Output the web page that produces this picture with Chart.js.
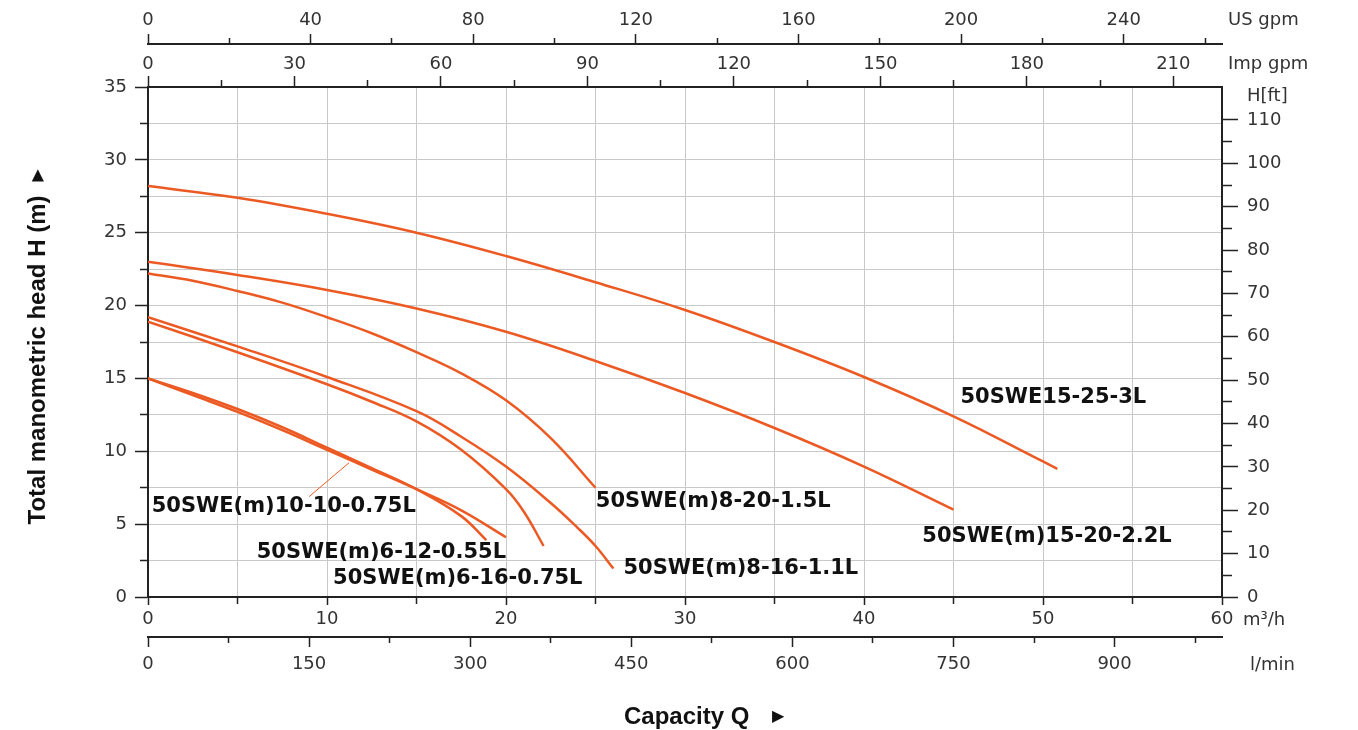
<!DOCTYPE html>
<html>
<head>
<meta charset="utf-8">
<style>
  html, body { margin: 0; padding: 0; background: #fff; }
  #wrap { width: 1358px; height: 730px; }
</style>
<script src="https://cdn.jsdelivr.net/npm/chart.js"></script>
</head>
<body>
<div id="wrap"><canvas id="pumpChart"></canvas></div>
<script>
// pump curves: Q in m3/h, H in m
const models = ['50SWE15-25-3L', '50SWE(m)15-20-2.2L', '50SWE(m)8-20-1.5L', '50SWE(m)8-16-1.1L',
                '50SWE(m)6-16-0.75L', '50SWE(m)6-12-0.55L', '50SWE(m)10-10-0.75L'];

const q15_25 = [0, 5, 10, 15, 20, 25, 30, 35, 40, 45, 50, 50.8];
const h15_25 = [28.2, 27.4, 26.3, 25.0, 23.4, 21.6, 19.7, 17.5, 15.1, 12.4, 9.3, 8.8];

const q15_20 = [0, 5, 10, 15, 20, 25, 30, 35, 40, 45];
const h15_20 = [23.0, 22.1, 21.07, 19.8, 18.2, 16.2, 14.0, 11.6, 8.95, 6.0];

const q8_20 = [0, 2.5, 5, 7.5, 10, 12.5, 15, 17.5, 20, 22.5, 25];
const h8_20 = [22.2, 21.7, 21.0, 20.2, 19.2, 18.1, 16.8, 15.35, 13.5, 10.9, 7.5];

const q8_16 = [0, 5, 10, 15, 17.5, 20, 22.5, 24, 25, 26];
const h8_16 = [19.2, 17.2, 15.1, 12.75, 11.0, 8.95, 6.45, 4.75, 3.5, 1.95];

const q6_16 = [0, 5, 10, 12.5, 15, 17.5, 20, 21, 22.1];
const h6_16 = [18.9, 16.8, 14.6, 13.4, 12.05, 10.1, 7.4, 5.85, 3.5];

const q6_12 = [0, 2.5, 5, 7.5, 10, 12.5, 15, 17.5, 20];
const h6_12 = [15.0, 13.85, 12.7, 11.45, 10.1, 8.75, 7.4, 5.95, 4.1];

const q10_10 = [0, 2.5, 5, 7.5, 10, 12.5, 15, 17.5, 18.9];
const h10_10 = [15.0, 14.0, 12.9, 11.65, 10.25, 8.85, 7.4, 5.55, 3.9];

// leader line from the 10-10 label to its curve
const leaderQ = [9.0, 11.24];
const leaderH = [6.89, 9.22];

// unit conversions used by the secondary axes (ft scale as printed on the chart)
const usGpmPerM3h = 4.4029;
const impGpmPerM3h = 3.6662;
const lminPerM3h = 1000 / 60;
const ftPerM = 3.36;
const ftLastTick = 110;

const flows = [q15_25, q15_20, q8_20, q8_16, q6_16, q6_12, q10_10];
const heads = [h15_25, h15_20, h8_20, h8_16, h6_16, h6_12, h10_10];

const toPoints = (qs, hs) => qs.map((q, i) => ({ x: q, y: hs[i] }));

const curveColor = '#EC5A24';
const axisColor = '#222';
const tickFont = { family: 'DejaVu Sans', size: 18 };
const tickColor = '#333';

// minor ticks drawn shorter with a dash pattern (Chart.js has one tickLength per axis)
function tickDash(minor, len, minorLen, outerFirst) {
  if (!minor) return [];
  return outerFirst ? [0, len - 1 - minorLen, minorLen, 200] : [minorLen, 200];
}

function sideAxis(opts) {
  const limit = opts.lastTick !== undefined ? opts.lastTick : Infinity;
  return {
    type: 'linear',
    position: opts.position,
    min: 0,
    max: opts.max,
    ticks: {
      stepSize: opts.step,
      includeBounds: false,
      autoSkip: false,
      maxRotation: 0,
      padding: opts.padding,
      font: tickFont,
      color: tickColor,
      callback: v => (v % opts.every === 0 && v <= limit ? v : '')
    },
    grid: {
      drawOnChartArea: !!opts.gridOn,
      color: '#c9c9c9',
      lineWidth: 1,
      tickLength: opts.tl,
      tickColor: ctx => (ctx.tick && ctx.tick.value > limit ? 'rgba(0,0,0,0)' : axisColor),
      tickWidth: 1.5,
      tickBorderDash: ctx => tickDash(ctx.tick && ctx.tick.value % opts.every !== 0, opts.tl, opts.minorTl, opts.outerFirst)
    },
    border: { color: axisColor, width: 2 },
    afterFit: opts.fit
  };
}

const datasets = flows.map((qs, i) => ({
  label: models[i],
  data: toPoints(qs, heads[i]),
  borderColor: curveColor,
  borderWidth: 2.5,
  pointRadius: 0,
  fill: false,
  tension: 0.4
}));
datasets.push({
  label: 'leader',
  data: toPoints(leaderQ, leaderH),
  borderColor: curveColor,
  borderWidth: 1,
  pointRadius: 0,
  fill: false
});

// label anchors (left edge, vertical centre) in chart units
const labelAnchors = [
  [45.39, 13.66], [43.26, 4.12], [25.02, 6.55], [26.56, 1.94],
  [10.34, 1.30], [6.07, 3.05], [0.21, 6.18]
];

const textPlugin = {
  id: 'pumpTexts',
  afterDraw(chart) {
    const c = chart.ctx;
    const { x, y, xUS, xImp, xL, y2 } = chart.scales;
    const area = chart.chartArea;
    c.save();

    // curve names
    c.fillStyle = '#111';
    c.font = 'bold 21px "DejaVu Sans"';
    c.textBaseline = 'middle';
    c.textAlign = 'left';
    models.forEach((m, i) => {
      c.fillText(m, x.getPixelForValue(labelAnchors[i][0]), y.getPixelForValue(labelAnchors[i][1]));
    });

    // unit labels
    c.fillStyle = tickColor;
    c.font = '18px "DejaVu Sans"';
    c.fillText('US gpm', area.right + 6, xUS.bottom - 24);
    c.fillText('Imp gpm', area.right + 6, xImp.bottom - 23);
    c.fillText('H[ft]', y2.left + 25, area.top + 9);
    c.fillText('m³/h', area.right + 21, x.top + 23);
    c.fillText('l/min', area.right + 28, xL.top + 28);

    // axis titles
    c.fillStyle = '#111';
    const midX = (area.left + area.right) / 2;
    c.font = 'bold 24px "Liberation Sans"';
    c.textAlign = 'left';
    c.fillText('Capacity Q', midX - 61, 717);
    c.font = '16px "DejaVu Sans"';
    c.fillText('▶', midX + 87, 717);

    c.translate(38, 360);
    c.rotate(-Math.PI / 2);
    c.font = 'bold 24px "Liberation Sans"';
    c.textAlign = 'center';
    c.fillText('Total manometric head H (m)', 0, 0);
    const w = c.measureText('Total manometric head H (m)').width;
    c.font = '16px "DejaVu Sans"';
    c.textAlign = 'left';
    c.fillText('▶', w / 2 + 14, 0);
    c.restore();
  }
};

new Chart(document.getElementById('pumpChart'), {
  type: 'line',
  data: { datasets: datasets },
  options: {
    responsive: true,
    maintainAspectRatio: false,
    animation: false,
    layout: { padding: 0 },
    plugins: { legend: { display: false }, tooltip: { enabled: false } },
    scales: {
      x: sideAxis({ position: 'bottom', max: 60, step: 5, every: 10, padding: 4, tl: 8, minorTl: 6,
                    outerFirst: false, gridOn: true, fit: s => { s.height = 40; } }),
      y: sideAxis({ position: 'left', max: 35, step: 2.5, every: 5, padding: 8, tl: 13, minorTl: 7,
                    outerFirst: true, gridOn: true, fit: s => { s.width = 148; } }),
      y2: sideAxis({ position: 'right', max: 35 * ftPerM, step: 5, every: 10, padding: 9, tl: 16, minorTl: 9,
                     outerFirst: false, lastTick: ftLastTick, fit: s => { s.width = 136; } }),
      xImp: sideAxis({ position: 'top', max: 60 * impGpmPerM3h, step: 15, every: 30, padding: 1, tl: 11, minorTl: 6,
                       outerFirst: true, fit: s => { s.height = 43; } }),
      xUS: sideAxis({ position: 'top', max: 60 * usGpmPerM3h, step: 20, every: 40, padding: 3, tl: 10, minorTl: 5,
                      outerFirst: true, fit: s => { s.height = 44; } }),
      xL: sideAxis({ position: 'bottom', max: 60 * lminPerM3h, step: 75, every: 150, padding: 7, tl: 10, minorTl: 5,
                     outerFirst: false, fit: s => { s.height = 93; } })
    }
  },
  plugins: [textPlugin]
});
</script>
</body>
</html>
